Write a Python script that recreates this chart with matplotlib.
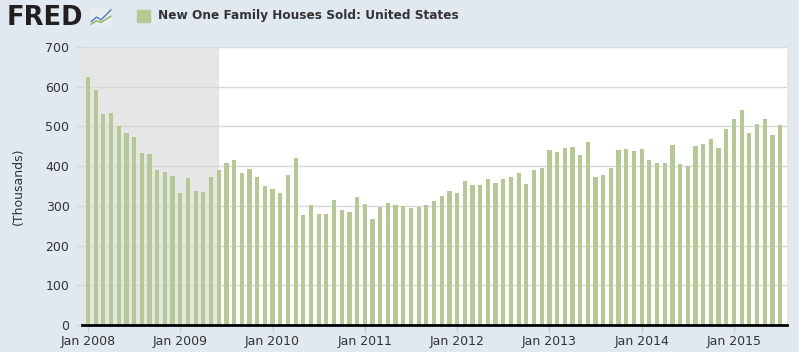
import matplotlib
matplotlib.use("Agg")
import matplotlib.pyplot as plt
import numpy as np
import pandas as pd

start_month = "2008-01"
values = [
    624, 591, 531, 534, 501, 483, 473, 433, 430, 390, 385, 375,   # 2008
    332, 370, 337, 335, 372, 390, 408, 415, 383, 393, 372, 350,   # 2009
    342, 332, 378, 420, 277, 302, 279, 279, 315, 289, 284, 322,   # 2010
    305, 267, 297, 307, 302, 300, 294, 297, 302, 312, 325, 337,   # 2011
    332, 362, 352, 352, 367, 357, 367, 372, 383, 355, 390, 395,   # 2012
    440, 435, 445, 448, 428, 461, 372, 378, 395, 440, 443, 438,   # 2013
    443, 415, 408, 408, 453, 405, 400, 450, 456, 468, 445, 493,   # 2014
    518, 541, 483, 506, 518, 478, 503,                            # 2015
]
tick_labels = ["Jan 2008", "Jan 2009", "Jan 2010", "Jan 2011",
               "Jan 2012", "Jan 2013", "Jan 2014", "Jan 2015"]
y_ticks = [0, 100, 200, 300, 400, 500, 600, 700]
recession_start = "2007-12"
recession_end = "2009-06"
title = "New One Family Houses Sold: United States"
ylabel = "(Thousands)"

dates = pd.period_range(start_month, periods=len(values), freq="M")
x = np.arange(len(values))
rec_s = (pd.Period(recession_start, "M") - dates[0]).n
rec_e = (pd.Period(recession_end, "M") - dates[0]).n

BG = "#E1E9F0"
BAR = "#B4C993"
TXT = "#333333"

fig = plt.figure(figsize=(7.99, 3.52), dpi=100, facecolor=BG)
ax = fig.add_axes([82/799, 27/352, 705/799, 278/352])
ax.set_facecolor("white")

xmin, xmax = -0.78, 90.9
ax.axvspan(max(rec_s, xmin), rec_e, color="#E6E6E6", zorder=0, lw=0)
ax.bar(x, values, width=0.55, color=BAR, zorder=3, lw=0)

ax.set_xlim(xmin, xmax)
ax.set_ylim(0, 700)
ax.set_yticks(y_ticks)
ax.yaxis.grid(True, color="#D8D8D8", lw=1, zorder=1)
ax.set_axisbelow(True)
for s in ["top", "right", "left"]:
    ax.spines[s].set_visible(False)
ax.spines["bottom"].set_color("black")
ax.spines["bottom"].set_linewidth(2)
ax.spines["bottom"].set_zorder(5)

jan_pos = [i for i, d in enumerate(dates) if d.month == 1]
ax.set_xticks(jan_pos)
ax.set_xticklabels(tick_labels)
ax.tick_params(axis="x", length=5, color="#B8CCE0", width=1, labelsize=9,
               labelcolor=TXT, pad=2)
ax.tick_params(axis="y", length=4, color="#D0D8E0", width=1, labelsize=9,
               labelcolor=TXT, pad=5)

fig.text(18/799, 1 - 186/352, ylabel, rotation=90, ha="center", va="center",
         fontsize=9, color=TXT)

# Header: logo and legend
fig.text(7/799, 1 - 18/352, "FRED", fontsize=18.5, fontweight="heavy", color="#231f20",
         ha="left", va="center")
icon = fig.add_axes([90/799, 1 - 27/352, 22/799, 18/352])
icon.set_facecolor("#E8ECEF")
icon.set_xlim(0, 1); icon.set_ylim(0, 1)
icon.plot([0.05, 0.3, 0.5, 0.75, 0.95], [0.3, 0.55, 0.4, 0.7, 0.95], color="#4A7EBB", lw=1)
icon.plot([0.05, 0.3, 0.5, 0.75, 0.95], [0.15, 0.35, 0.25, 0.45, 0.6], color="#8BB356", lw=1)
icon.set_xticks([]); icon.set_yticks([])
for s in icon.spines.values():
    s.set_visible(False)

fig.patches.append(plt.Rectangle((137/799, 1 - 22/352), 13/799, 12/352,
                                 transform=fig.transFigure, color=BAR))
fig.text(158/799, 1 - 16/352, title, fontsize=8.7, fontweight="bold", color=TXT,
         ha="left", va="center")

fig.savefig("out.png", dpi=100, facecolor=BG)
